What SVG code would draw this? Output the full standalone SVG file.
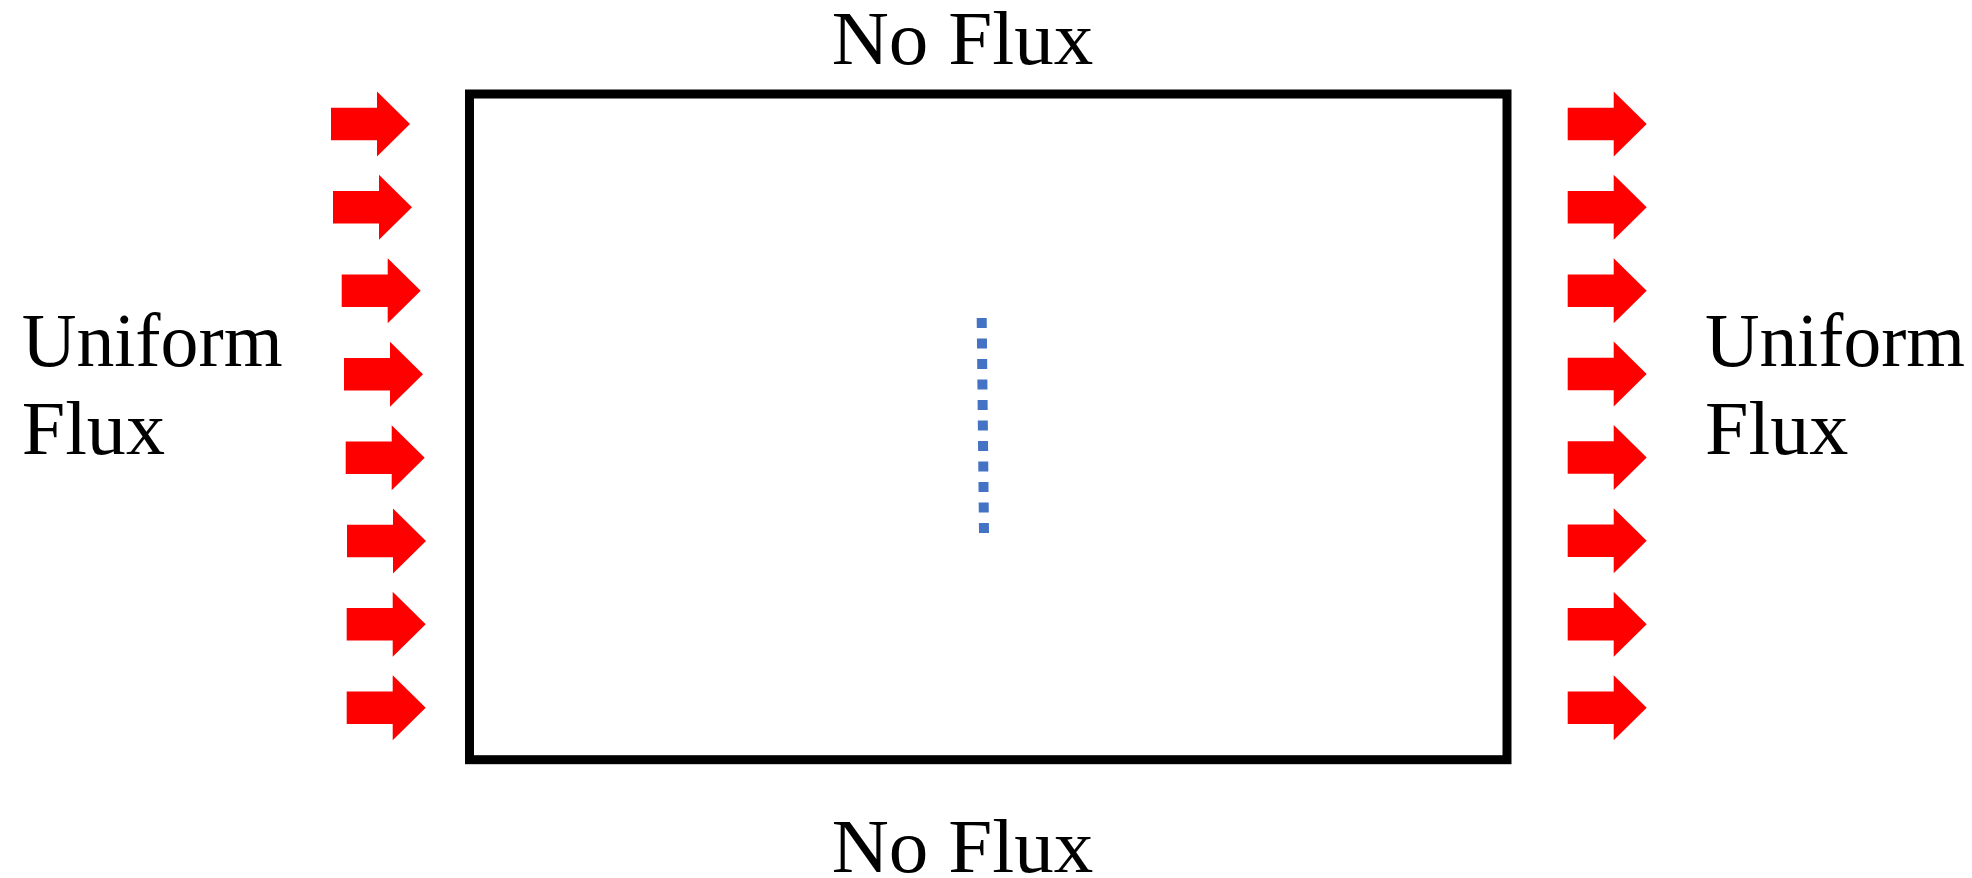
<svg xmlns="http://www.w3.org/2000/svg" xmlns:xlink="http://www.w3.org/1999/xlink" width="1972" height="878" viewBox="0 0 1972 878">
<style>
.lbl{font-family:"Liberation Serif","DejaVu Serif",serif;font-size:77px;fill:#000}
.arr{fill:#ff0000}
</style>
<defs>
<path id="arr" class="arr" d="M-79,-16.25 H-33 V-32.5 L0,0 L-33,32.5 V16.25 H-79 Z"/>
</defs>
<rect width="1972" height="878" fill="#fff"/>
<g id="domain">
<rect x="469.5" y="94" width="1037.5" height="665.7" fill="none" stroke="#000" stroke-width="9"/>
</g>
<g id="crack">
<line x1="981.7" y1="318" x2="984" y2="533" stroke="#4472C4" stroke-width="10" stroke-dasharray="10 10.5"/>
</g>
<g id="connectors">
<use xlink:href="#arr" x="410" y="124"/>
<use xlink:href="#arr" x="412" y="207.3"/>
<use xlink:href="#arr" x="420.7" y="290.7"/>
<use xlink:href="#arr" x="423" y="374.3"/>
<use xlink:href="#arr" x="424.7" y="457.7"/>
<use xlink:href="#arr" x="426" y="541"/>
<use xlink:href="#arr" x="425.7" y="624.3"/>
<use xlink:href="#arr" x="425.7" y="707.7"/>
<use xlink:href="#arr" x="1646.7" y="124"/>
<use xlink:href="#arr" x="1646.7" y="207.3"/>
<use xlink:href="#arr" x="1646.7" y="290.7"/>
<use xlink:href="#arr" x="1646.7" y="374"/>
<use xlink:href="#arr" x="1646.7" y="457.4"/>
<use xlink:href="#arr" x="1646.7" y="540.8"/>
<use xlink:href="#arr" x="1646.7" y="624.3"/>
<use xlink:href="#arr" x="1646.7" y="707.7"/>
</g>
<g id="label-top"><text class="lbl" x="831.7" y="64" textLength="261.6" lengthAdjust="spacingAndGlyphs">No Flux</text></g>
<g id="label-bottom"><text class="lbl" x="831.7" y="871.7" textLength="261.6" lengthAdjust="spacingAndGlyphs">No Flux</text></g>
<g id="label-left">
<text class="lbl" x="21.7" y="366" textLength="261" lengthAdjust="spacingAndGlyphs">Uniform</text>
<text class="lbl" x="21.7" y="454" textLength="143.3" lengthAdjust="spacingAndGlyphs">Flux</text>
</g>
<g id="label-right">
<text class="lbl" x="1705" y="366" textLength="260" lengthAdjust="spacingAndGlyphs">Uniform</text>
<text class="lbl" x="1705" y="454" textLength="143.3" lengthAdjust="spacingAndGlyphs">Flux</text>
</g>
</svg>
